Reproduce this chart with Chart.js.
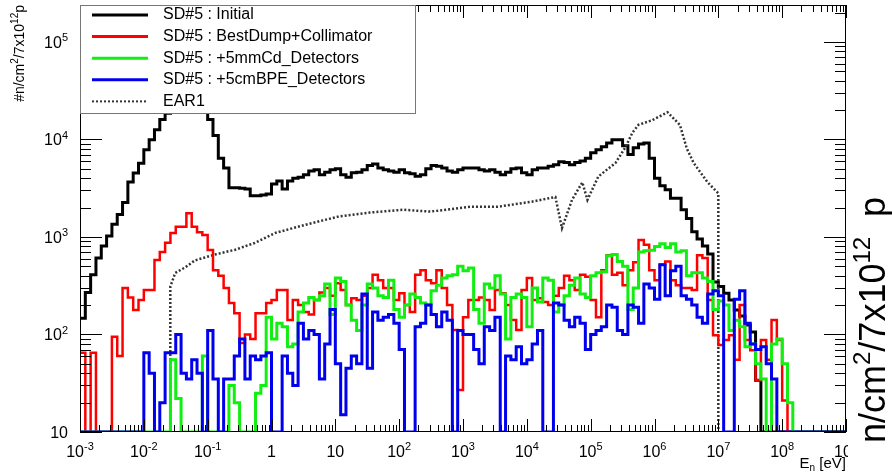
<!DOCTYPE html>
<html>
<head>
<meta charset="utf-8">
<script src="https://cdn.jsdelivr.net/npm/chart.js@4.4.1/dist/chart.umd.min.js"></script>
<style>
  html, body { margin: 0; padding: 0; background: #fff; }
  #wrap { width: 892px; height: 475px; }
</style>
</head>
<body>
<div id="wrap"><canvas id="fluxSD5"></canvas></div>
<script>
var fontFam = '"Liberation Sans", Arial, sans-serif';
Chart.defaults.font.family = fontFam;
Chart.defaults.color = '#000';

// histogram binning: 12 bins per decade, 1e-3 eV .. 1e9 eV
var binsPerDecade = 12;
var eMin = 1e-3;

// one line per decade (10^-3 ... 10^8)
var initial = [
    147, 270, 410, 610, 810, 1020, 1350, 1700, 2250, 3650, 4530, 5700,
    7840, 9930, 12600, 16000, 18500, 21000, 24000, 26000, 27000, 26500, 24000, 20000,
    16000, 11000, 6400, 5100, 3200, 3200, 3150, 3100, 2650, 2650, 2700, 2750,
    3500, 3750, 3100, 3750, 4000, 4100, 4350, 4750, 4880, 4350, 4600, 4880,
    5000, 4350, 4100, 4550, 4600, 4880, 5400, 5600, 5100, 4880, 4750, 4600,
    4880, 4550, 4450, 4200, 4350, 5000, 5400, 5300, 5100, 4750, 4600, 4880,
    5100, 5100, 5100, 4880, 4750, 4880, 4600, 4350, 4600, 5000, 5100, 4550,
    4350, 4880, 5100, 5100, 5300, 5500, 5900, 5800, 5500, 5800, 6000, 6400,
    7300, 7840, 8400, 9200, 9900, 9900, 8600, 7000, 8200, 9000, 9200, 6400,
    4000, 3350, 3050, 2500, 2500, 1900, 1550, 1130, 950, 810, 670, 345,
    310, 265, 226, 178, 155, 125, 106, 34, 10, 10, 10, 10,
    10, 10, 10, 10, 10, 10, 10, 10, 10, 10, 10, 10
];
var bestDump = [
    65, 10, 65, 10, 10, 10, 95, 60, 300, 240, 178, 226,
    285, 285, 580, 700, 870, 1100, 1270, 1270, 1750, 1270, 1120, 1050,
    735, 456, 400, 300, 210, 165, 82, 100, 90, 165, 165, 210,
    226, 285, 285, 141, 226, 200, 170, 160, 226, 270, 300, 250,
    335, 285, 200, 235, 226, 250, 300, 410, 360, 300, 300, 226,
    265, 200, 170, 410, 456, 360, 335, 456, 300, 200, 111, 27,
    150, 226, 226, 240, 226, 178, 285, 265, 200, 141, 111, 285,
    380, 226, 235, 215, 200, 250, 300, 400, 360, 285, 410, 390,
    226, 150, 456, 650, 410, 430, 320, 456, 550, 930, 830, 456,
    360, 520, 560, 360, 320, 300, 300, 285, 650, 610, 226, 98,
    78, 88, 98, 55, 200, 88, 69, 34, 88, 55, 141, 88,
    21, 10, 10, 10, 10, 10, 10, 10, 10, 10, 10, 10
];
var cdDetectors = [
    10, 10, 10, 10, 10, 10, 10, 10, 10, 10, 10, 10,
    10, 10, 10, 10, 10, 55, 22, 10, 10, 10, 10, 60,
    10, 10, 10, 10, 30, 20, 10, 10, 10, 25, 30, 150,
    90, 130, 120, 75, 80, 170, 210, 240, 226, 250, 330, 160,
    380, 350, 200, 140, 110, 200, 330, 300, 250, 240, 360, 180,
    150, 200, 260, 240, 210, 200, 280, 320, 380, 400, 410, 500,
    450, 480, 180, 130, 330, 300, 400, 260, 90, 240, 260, 240,
    120, 300, 215, 380, 360, 170, 200, 250, 320, 380, 260, 240,
    400, 430, 440, 640, 660, 560, 500, 180, 300, 700, 720, 730,
    800, 850, 780, 850, 700, 720, 400, 430, 430, 380, 350, 180,
    220, 200, 110, 140, 120, 75, 80, 50, 35, 10, 80, 90,
    50, 20, 10, 10, 10, 10, 10, 10, 10, 10, 10, 10
];
var bpeDetectors = [
    10, 10, 10, 10, 10, 10, 10, 10, 10, 10, 10, 10,
    65, 40, 10, 20, 65, 65, 100, 40, 35, 55, 40, 10,
    110, 35, 10, 35, 35, 60, 90, 35, 60, 55, 60, 65,
    10, 10, 60, 40, 30, 130, 90, 110, 100, 35, 80, 180,
    50, 15, 45, 60, 50, 260, 45, 170, 140, 150, 160, 130,
    70, 10, 10, 120, 130, 200, 160, 120, 170, 140, 10, 110,
    100, 100, 70, 50, 120, 110, 150, 10, 60, 55, 75, 50,
    55, 80, 110, 10, 10, 210, 200, 140, 120, 150, 130, 70,
    100, 110, 120, 200, 190, 110, 100, 200, 190, 130, 330, 300,
    230, 520, 250, 450, 500, 250, 230, 200, 150, 130, 260, 280,
    250, 10, 10, 230, 280, 130, 80, 70, 75, 50, 35, 10,
    10, 10, 10, 10, 10, 10, 10, 10, 10, 10, 10, 10
];

var ear1Energy = [0.026, 0.026, 0.031, 0.045, 0.063, 0.091, 0.13, 0.27, 0.55, 1.15, 3.2, 10.8, 35, 116, 308,
    1300, 3500, 12000, 28000, 35500, 51000, 74000, 89000, 132000, 245000, 350000, 450000, 560000, 930000,
    1.6e6, 2.5e6, 3.2e6, 4.1e6, 6.8e6, 1e7, 1e7];
var ear1Flux = [10, 309, 427, 490, 575, 617, 660, 740, 870, 1100, 1320, 1610, 1780, 1900, 1820,
    2040, 2040, 2300, 2570, 1230, 2400, 3630, 2400, 4170, 5750, 8300, 11700, 14100, 15800,
    19000, 14100, 8100, 5750, 3630, 2800, 10];

var xDecades = [-3, -2, -1, 0, 1, 2, 3, 4, 5, 6, 7, 8, 9];
var yDecades = [1, 2, 3, 4, 5];

function histPoints(vals) {
    var pts = vals.map(function (v, i) {
        return { x: eMin * Math.pow(10, i / binsPerDecade), y: v };
    });
    pts.push({ x: eMin * Math.pow(10, vals.length / binsPerDecade), y: vals[vals.length - 1] });
    return pts;
}

// text with super/subscripts: parts = [[text, 0 | 1 (sup) | -1 (sub)]]
function richWidth(ctx, parts, size) {
    var w = 0;
    parts.forEach(function (p) {
        ctx.font = (p[1] ? Math.round(size * 0.68) : size) + 'px ' + fontFam;
        w += ctx.measureText(p[0]).width;
    });
    return w;
}
function drawRich(ctx, parts, x, y, size, align) {
    var w = richWidth(ctx, parts, size);
    var cx = align === 'center' ? x - w / 2 : (align === 'right' ? x - w : x);
    ctx.textAlign = 'left';
    ctx.textBaseline = 'alphabetic';
    parts.forEach(function (p) {
        ctx.font = (p[1] ? Math.round(size * 0.68) : size) + 'px ' + fontFam;
        var dy = p[1] === 1 ? -size * 0.42 : (p[1] === -1 ? size * 0.22 : 0);
        ctx.fillText(p[0], cx, y + dy);
        cx += ctx.measureText(p[0]).width;
    });
}
function decadeLabel(d) {
    if (d === 0) return [['1', 0]];
    if (d === 1) return [['10', 0]];
    return [['10', 0], [String(d), 1]];
}

var rootStyle = {
    id: 'rootStyle',
    afterDatasetsDraw: function (chart) {
        var ctx = chart.ctx, a = chart.chartArea;
        var xs = chart.scales.x, ys = chart.scales.y;
        ctx.save();

        // frame and inward ticks
        ctx.strokeStyle = '#000';
        ctx.lineWidth = 1;
        ctx.strokeRect(a.left + 0.5, a.top + 0.5, a.right - a.left - 1, a.bottom - a.top - 1);
        ctx.beginPath();
        xDecades.forEach(function (d) {
            for (var m = 1; m < 10; m++) {
                var v = m * Math.pow(10, d);
                if (v < xs.min || v > xs.max) continue;
                var px = Math.round(xs.getPixelForValue(v)) + 0.5;
                var len = m === 1 ? 13 : 7;
                ctx.moveTo(px, a.bottom); ctx.lineTo(px, a.bottom - len);
                ctx.moveTo(px, a.top); ctx.lineTo(px, a.top + len);
            }
        });
        yDecades.concat([0]).forEach(function (d) {
            for (var m = 1; m < 10; m++) {
                var v = m * Math.pow(10, d);
                if (v < ys.min || v > ys.max) continue;
                var py = Math.round(ys.getPixelForValue(v)) + 0.5;
                var len = m === 1 ? 22 : 11;
                ctx.moveTo(a.left, py); ctx.lineTo(a.left + len, py);
                ctx.moveTo(a.right, py); ctx.lineTo(a.right - len, py);
            }
        });
        ctx.stroke();

        // tick labels
        ctx.fillStyle = '#000';
        ctx.save();
        ctx.beginPath();
        ctx.rect(0, 0, 848, 475);
        ctx.clip();
        xDecades.forEach(function (d) {
            var px = xs.getPixelForValue(Math.pow(10, d));
            drawRich(ctx, decadeLabel(d), px, a.bottom + 25, 16, 'center');
        });
        ctx.restore();
        yDecades.forEach(function (d) {
            var py = ys.getPixelForValue(Math.pow(10, d));
            drawRich(ctx, decadeLabel(d), a.left - 12, py + 6, 16, 'right');
        });

        // axis titles
        drawRich(ctx, [['E', 0], ['n', -1], [' [eV]', 0]], a.right, 468, 15, 'right');
        ctx.save();
        ctx.translate(24, a.top);
        ctx.rotate(-Math.PI / 2);
        drawRich(ctx, [['#n/cm', 0], ['2', 1], ['/7x10', 0], ['12', 1], ['p', 0]], 0, 0, 14, 'right');
        ctx.restore();
        ctx.save();
        ctx.translate(885, 443);
        ctx.rotate(-Math.PI / 2);
        drawRich(ctx, [['n/cm', 0], ['2', 1], ['/7x10', 0], ['12', 1], ['  p', 0]], 0, 0, 36, 'left');
        ctx.restore();

        // legend box (drawn over the plot, ROOT TLegend style)
        var lx = a.left, ly = a.top, lw = 335, lh = 108;
        ctx.fillStyle = '#fff';
        ctx.fillRect(lx, ly, lw, lh);
        ctx.strokeStyle = '#777';
        ctx.lineWidth = 1;
        ctx.strokeRect(lx + 0.5, ly + 0.5, lw, lh);
        chart.data.datasets.forEach(function (ds, i) {
            var cy = ly + 10 + i * 21.6;
            ctx.save();
            ctx.strokeStyle = ds.borderColor;
            ctx.lineWidth = ds.borderDash ? 2 : 3;
            ctx.setLineDash(ds.borderDash || []);
            ctx.beginPath();
            ctx.moveTo(92, cy); ctx.lineTo(148, cy);
            ctx.stroke();
            ctx.restore();
            ctx.fillStyle = '#000';
            ctx.font = '16px ' + fontFam;
            ctx.textAlign = 'left';
            ctx.textBaseline = 'middle';
            ctx.fillText(ds.label, 163, cy);
        });

        ctx.restore();
    }
};

var ctx = document.getElementById('fluxSD5');
var fluxChart = new Chart(ctx, {
    type: 'line',
    data: {
        datasets: [
            {
                label: 'SD#5 : Initial',
                data: histPoints(initial),
                borderColor: '#000000',
                borderWidth: 3,
                stepped: true,
                order: 5
            },
            {
                label: 'SD#5 : BestDump+Collimator',
                data: histPoints(bestDump),
                borderColor: '#ff0000',
                borderWidth: 2.5,
                stepped: true,
                order: 3
            },
            {
                label: 'SD#5 : +5mmCd_Detectors',
                data: histPoints(cdDetectors),
                borderColor: '#11ee11',
                borderWidth: 3,
                stepped: true,
                order: 2
            },
            {
                label: 'SD#5 : +5cmBPE_Detectors',
                data: histPoints(bpeDetectors),
                borderColor: '#0000ee',
                borderWidth: 3,
                stepped: true,
                order: 1
            },
            {
                label: 'EAR1',
                data: ear1Energy.map(function (e, i) { return { x: e, y: ear1Flux[i] }; }),
                borderColor: '#333333',
                borderWidth: 2.5,
                borderDash: [2, 2],
                order: 4
            },
        ]
    },
    options: {
        responsive: true,
        maintainAspectRatio: false,
        animation: false,
        events: [],
        elements: {
            point: { radius: 0 },
            line: { tension: 0, fill: false }
        },
        layout: {
            padding: { top: 5, right: 46, left: 0, bottom: 0 }
        },
        plugins: {
            legend: { display: false },
            tooltip: { enabled: false },
        },
        scales: {
            x: {
                type: 'logarithmic',
                min: 1e-3,
                max: 1e9,
                grid: { display: false },
                border: { display: false },
                ticks: { display: false },
                afterFit: function (s) { s.height = 43; }
            },
            y: {
                type: 'logarithmic',
                min: 10,
                max: 2.39e5,
                grid: { display: false },
                border: { display: false },
                ticks: { display: false },
                afterFit: function (s) { s.width = 80; }
            },
        },
    },
    plugins: [rootStyle]
});
</script>
</body>
</html>
